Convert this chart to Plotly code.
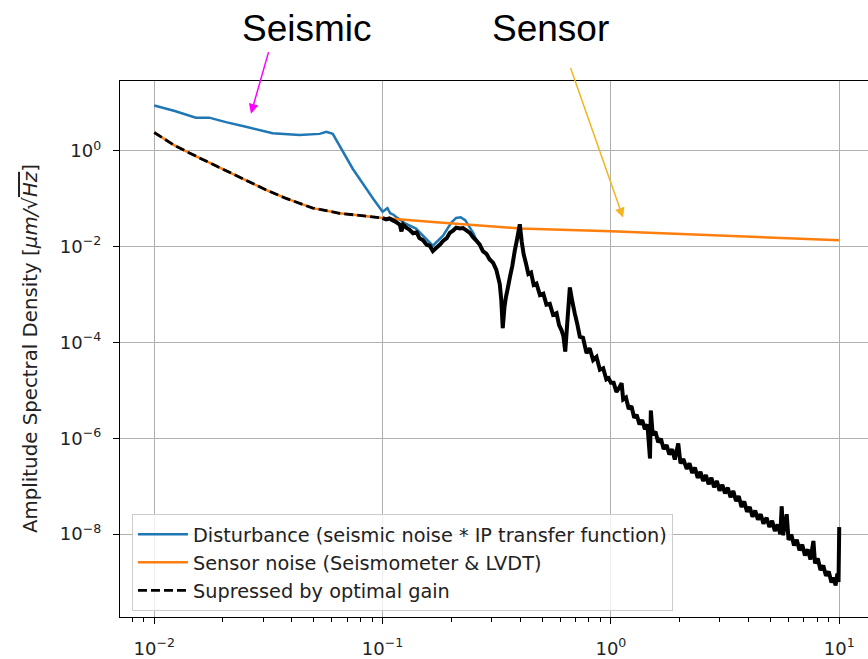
import plotly.graph_objects as go

# ---- data -------------------------------------------------------------
# Disturbance (seismic noise * IP transfer function), low-frequency part [Hz, um/sqrt(Hz)]
seis_freq = [0.01, 0.0123, 0.0152, 0.0174, 0.0206, 0.0252, 0.033, 0.0432, 0.053, 0.0567,
             0.0605, 0.074, 0.0908, 0.100, 0.105, 0.108, 0.112, 0.116, 0.120, 0.125,
             0.140, 0.166, 0.184, 0.200, 0.210, 0.220, 0.230, 0.240, 0.250, 0.258]
seis_asd = [8.9, 6.8, 4.95, 4.95, 4.0, 3.2, 2.35, 2.14, 2.27, 2.5,
            2.27, 0.425, 0.102, 0.054, 0.064, 0.050, 0.046, 0.040, 0.036, 0.031,
            0.024, 0.0105, 0.017, 0.032, 0.040, 0.041, 0.036, 0.026, 0.019, 0.0135]

# Sensor noise (Seismometer & LVDT)
sensor_freq = [0.01, 0.0123, 0.0152, 0.0196, 0.0252, 0.031, 0.0378, 0.0495, 0.0647, 0.079,
               0.1, 0.166, 0.326, 0.4, 1.0, 2.0, 4.0, 10.0]
sensor_asd = [2.43, 1.29, 0.78, 0.43, 0.244, 0.152, 0.102, 0.064, 0.050, 0.045,
              0.040, 0.033, 0.0255, 0.024, 0.021, 0.0186, 0.0164, 0.0137]

# Suppressed by optimal gain, 0.1 Hz .. 10 Hz (measured, noisy)
supp_freq = [
    0.100, 0.1035, 0.107, 0.111, 0.115, 0.119, 0.121, 0.123, 0.127, 0.131,
    0.136, 0.141, 0.145, 0.150, 0.156, 0.161, 0.166, 0.172, 0.178, 0.184,
    0.191, 0.197, 0.204, 0.210, 0.218, 0.225, 0.233, 0.241, 0.249, 0.258,
    0.266, 0.275, 0.285, 0.294, 0.305, 0.315, 0.326, 0.331, 0.336, 0.342,
    0.347, 0.354, 0.361, 0.370, 0.379, 0.389, 0.399, 0.407, 0.415, 0.425,
    0.435, 0.447, 0.459, 0.472, 0.489, 0.506, 0.522, 0.540, 0.558, 0.578,
    0.593, 0.608, 0.619, 0.631, 0.646, 0.661, 0.678, 0.695, 0.713, 0.731,
    0.755, 0.782, 0.807, 0.836, 0.865, 0.895, 0.925, 0.955, 0.977, 1.000,
    1.028, 1.057, 1.086, 1.114, 1.132, 1.164, 1.197, 1.230, 1.265, 1.297,
    1.334, 1.371, 1.409, 1.445, 1.483, 1.496, 1.524, 1.567, 1.611, 1.656,
    1.702, 1.754, 1.803, 1.854, 1.905, 1.972, 2.018, 2.075, 2.148, 2.208,
    2.270, 2.333, 2.399, 2.466, 2.535, 2.606, 2.679, 2.754, 2.831, 2.911,
    2.992, 3.076, 3.162, 3.251, 3.342, 3.436, 3.532, 3.631, 3.733, 3.837,
    3.945, 4.055, 4.169, 4.285, 4.406, 4.529, 4.656, 4.808, 4.943, 5.082,
    5.224, 5.370, 5.521, 5.598, 5.675, 5.888, 5.998, 6.166, 6.339, 6.516,
    6.699, 6.887, 7.079, 7.278, 7.482, 7.709, 7.834, 8.054, 8.279, 8.511,
    8.750, 8.995, 9.247, 9.462, 9.638, 9.817, 9.93, 10.0]
supp_asd = [
    0.0398, 0.0372, 0.0389, 0.0355, 0.0324, 0.0288, 0.0209, 0.0288, 0.0251, 0.0229,
    0.0191, 0.0200, 0.0151, 0.0138, 0.0110, 0.0105, 0.0081, 0.0095, 0.0110, 0.0132,
    0.0151, 0.0195, 0.0219, 0.0251, 0.0240, 0.0245, 0.0219, 0.0195, 0.0158, 0.0132,
    0.0112, 0.0081, 0.0071, 0.0055, 0.0046, 0.0033, 0.00166, 0.00079, 0.0002, 0.00056,
    0.00089, 0.00141, 0.00229, 0.0040, 0.0081, 0.0151, 0.0295, 0.0126, 0.0069, 0.0044,
    0.0027, 0.0029, 0.0016, 0.0017, 0.00098, 0.00105, 0.00062, 0.00064, 0.00038, 0.00041,
    0.00023, 0.00018, 0.000138, 6.5e-5, 0.000316, 0.00141, 0.00071, 0.0004, 0.00024, 0.000132,
    0.000125, 6.0e-5, 7.6e-5, 4.3e-5, 5.0e-5, 2.7e-5, 2.9e-5, 1.7e-5, 1.8e-5, 1.45e-5,
    1.45e-5, 9.3e-6, 1.12e-5, 1.41e-5, 6.5e-6, 7.1e-6, 4.1e-6, 4.7e-6, 2.7e-6, 3.1e-6,
    1.95e-6, 2.4e-6, 1.55e-6, 1.95e-6, 3.8e-7, 3.8e-6, 1.2e-6, 1.38e-6, 8.3e-7, 9.8e-7,
    6.0e-7, 7.2e-7, 4.6e-7, 5.9e-7, 3.6e-7, 7.8e-7, 3.0e-7, 3.7e-7, 2.3e-7, 3.0e-7,
    1.9e-7, 2.45e-7, 1.5e-7, 2.0e-7, 1.29e-7, 1.7e-7, 1.1e-7, 1.5e-7, 9.5e-8, 1.29e-7,
    8.1e-8, 1.07e-7, 7.1e-8, 9.3e-8, 5.9e-8, 7.9e-8, 4.9e-8, 6.2e-8, 3.7e-8, 4.8e-8,
    2.95e-8, 3.7e-8, 2.3e-8, 3.1e-8, 2.0e-8, 2.6e-8, 1.66e-8, 2.2e-8, 1.41e-8, 1.9e-8,
    1.17e-8, 1.58e-8, 1.0e-8, 3.8e-8, 9.5e-9, 2.6e-8, 7.6e-9, 9.8e-9, 5.8e-9, 7.6e-9,
    4.6e-9, 6.0e-9, 3.6e-9, 4.8e-9, 2.95e-9, 7.2e-9, 2.45e-9, 3.1e-9, 1.78e-9, 2.2e-9,
    1.35e-9, 1.66e-9, 9.8e-10, 1.23e-9, 8.5e-10, 1.5e-9, 1.0e-9, 1.4e-8]

# axis ticks
x_tick_vals = [1e-2, 1e-1, 1e0, 1e1]
x_tick_text = ["10<sup>−2</sup>", "10<sup>−1</sup>", "10<sup>0</sup>", "10<sup>1</sup>"]
y_tick_vals = [1e-8, 1e-6, 1e-4, 1e-2, 1e0]
y_tick_text = ["10<sup>−8</sup>", "10<sup>−6</sup>", "10<sup>−4</sup>", "10<sup>−2</sup>", "10<sup>0</sup>"]
x_minor_vals = [m * 10.0 ** d for d in (-3, -2, -1, 0, 1) for m in range(2, 10)]

labels = ["Disturbance (seismic noise * IP transfer function)",
          "Sensor noise (Seismometer & LVDT)",
          "Supressed by optimal gain"]

# ---- derived series ----------------------------------------------------
# above ~0.26 Hz the disturbance lies under the suppressed curve
dist_freq = seis_freq + [f for f in supp_freq if f > seis_freq[-1]]
dist_asd = seis_asd + [a for f, a in zip(supp_freq, supp_asd) if f > seis_freq[-1]]
# below 0.1 Hz the suppressed curve follows the sensor noise
low_freq = [f for f in sensor_freq if f <= supp_freq[0]]
low_asd = [a for f, a in zip(sensor_freq, sensor_asd) if f <= supp_freq[0]]

BLUE, ORANGE, BLACK = "#1f77b4", "#ff7f0e", "#000000"
FONT = "DejaVu Sans"
TEXT = "#222222"

fig = go.Figure()
fig.add_trace(go.Scatter(x=dist_freq, y=dist_asd, mode="lines", name=labels[0],
                         legendgroup="a", line=dict(color=BLUE, width=2.5, simplify=False)))
fig.add_trace(go.Scatter(x=sensor_freq, y=sensor_asd, mode="lines", name=labels[1],
                         legendgroup="b", line=dict(color=ORANGE, width=2.5)))
fig.add_trace(go.Scatter(x=low_freq, y=low_asd, mode="lines", name=labels[2],
                         legendgroup="c", line=dict(color=BLACK, width=2.8, dash="9px,4px")))
fig.add_trace(go.Scatter(x=supp_freq, y=supp_asd, mode="lines", showlegend=False,
                         legendgroup="c", line=dict(color=BLACK, width=4.0, simplify=False)))

axis_common = dict(
    type="log", showline=True, linecolor="black", linewidth=1.3,
    showgrid=True, gridcolor="#b0b0b0", gridwidth=1,
    ticks="outside", ticklen=6, tickwidth=1.2, tickcolor="black",
    tickfont=dict(family=FONT, size=18, color=TEXT),
    zeroline=False,
)
fig.update_xaxes(**axis_common, range=[-2.150, 1.126], mirror=True,
                 tickmode="array", tickvals=x_tick_vals, ticktext=x_tick_text,
                 ticklabelstandoff=9,
                 minor=dict(tickmode="array", tickvals=x_minor_vals, ticks="outside",
                            ticklen=3.5, tickwidth=1, tickcolor="black", showgrid=False))
fig.update_yaxes(**axis_common, range=[-9.73, 1.46], mirror=False,
                 tickmode="array", tickvals=y_tick_vals, ticktext=y_tick_text,
                 ticklabelstandoff=8)

fig.update_layout(
    width=868, height=659,
    margin=dict(l=120, r=0, t=81, b=37),
    paper_bgcolor="white", plot_bgcolor="white",
    showlegend=True,
    legend=dict(x=0.016, y=0.011, xanchor="left", yanchor="bottom",
                bgcolor="rgba(255,255,255,0.8)", bordercolor="#cccccc", borderwidth=1,
                font=dict(family=FONT, size=19.3, color=TEXT),
                traceorder="grouped", tracegroupgap=0, itemwidth=50),
    font=dict(family=FONT),
)

# y-axis title
fig.add_annotation(
    x=-0.1203, y=0.5, xref="paper", yref="paper", xanchor="center", yanchor="middle",
    textangle=-90, showarrow=False,
    text="Amplitude Spectral Density [<i>μm/√<span style='text-decoration:overline'>Hz</span></i>]",
    font=dict(family=FONT, size=19.8, color=TEXT),
)

# callouts above the axes
fig.add_annotation(x=0.2500, y=1.098, xref="paper", yref="paper", text="Seismic",
                   xanchor="center", yanchor="middle", showarrow=False,
                   font=dict(family="Liberation Sans", size=37, color="black"))
fig.add_annotation(x=0.5762, y=1.098, xref="paper", yref="paper", text="Sensor",
                   xanchor="center", yanchor="middle", showarrow=False,
                   font=dict(family="Liberation Sans", size=37, color="black"))
fig.add_annotation(x=0.1751, y=0.9391, xref="paper", yref="paper", text="",
                   showarrow=True, ax=18, ay=-63, arrowcolor="#ff00ff",
                   arrowwidth=1.5, arrowhead=2, arrowsize=1.3)
fig.add_annotation(x=0.6725, y=0.7454, xref="paper", yref="paper", text="",
                   showarrow=True, ax=-53, ay=-151, arrowcolor="#f2b520",
                   arrowwidth=1.5, arrowhead=2, arrowsize=1.3)

fig.write_html("out.html")
